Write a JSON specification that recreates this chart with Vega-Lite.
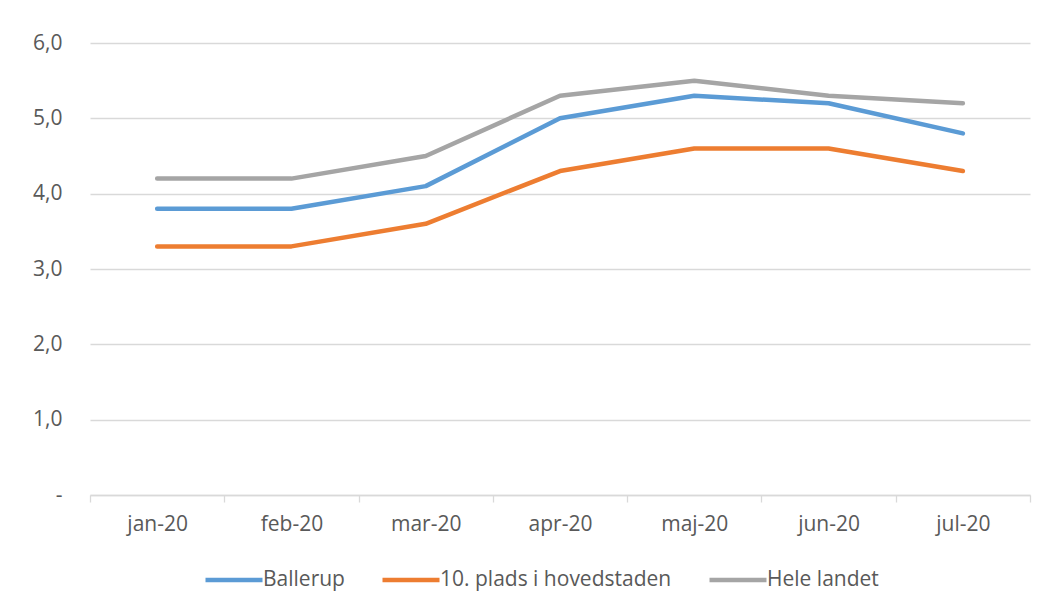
{
  "$schema": "https://vega.github.io/schema/vega-lite/v6.json",
  "autosize": {"type": "none"},
  "width": 940,
  "height": 452,
  "padding": {"left": 90, "top": 43, "right": 25, "bottom": 116},
  "background": "white",
  "config": {
    "view": {"stroke": null},
    "font": "Open Sans"
  },
  "data": {
    "values": [
      {"month": "jan-20", "serie": "Ballerup", "value": 3.8},
      {"month": "feb-20", "serie": "Ballerup", "value": 3.8},
      {"month": "mar-20", "serie": "Ballerup", "value": 4.1},
      {"month": "apr-20", "serie": "Ballerup", "value": 5.0},
      {"month": "maj-20", "serie": "Ballerup", "value": 5.3},
      {"month": "jun-20", "serie": "Ballerup", "value": 5.2},
      {"month": "jul-20", "serie": "Ballerup", "value": 4.8},
      {"month": "jan-20", "serie": "10. plads i hovedstaden", "value": 3.3},
      {"month": "feb-20", "serie": "10. plads i hovedstaden", "value": 3.3},
      {"month": "mar-20", "serie": "10. plads i hovedstaden", "value": 3.6},
      {"month": "apr-20", "serie": "10. plads i hovedstaden", "value": 4.3},
      {"month": "maj-20", "serie": "10. plads i hovedstaden", "value": 4.6},
      {"month": "jun-20", "serie": "10. plads i hovedstaden", "value": 4.6},
      {"month": "jul-20", "serie": "10. plads i hovedstaden", "value": 4.3},
      {"month": "jan-20", "serie": "Hele landet", "value": 4.2},
      {"month": "feb-20", "serie": "Hele landet", "value": 4.2},
      {"month": "mar-20", "serie": "Hele landet", "value": 4.5},
      {"month": "apr-20", "serie": "Hele landet", "value": 5.3},
      {"month": "maj-20", "serie": "Hele landet", "value": 5.5},
      {"month": "jun-20", "serie": "Hele landet", "value": 5.3},
      {"month": "jul-20", "serie": "Hele landet", "value": 5.2}
    ]
  },
  "mark": {"type": "line", "strokeWidth": 4.5, "strokeCap": "round", "strokeJoin": "round"},
  "encoding": {
    "x": {
      "field": "month",
      "type": "ordinal",
      "sort": ["jan-20", "feb-20", "mar-20", "apr-20", "maj-20", "jun-20", "jul-20"],
      "bandPosition": 0.5,
      "scale": {"type": "band", "paddingInner": 0, "paddingOuter": 0},
      "axis": {
        "title": null,
        "labelAngle": 0,
        "labelFontSize": 21,
        "labelColor": "#595959",
        "labelPadding": 11,
        "tickBand": "extent",
        "ticks": true,
        "tickSize": 7,
        "tickColor": "#d9d9d9",
        "tickWidth": 1.3,
        "domainColor": "#d9d9d9",
        "domainWidth": 1.3,
        "grid": false
      }
    },
    "y": {
      "field": "value",
      "type": "quantitative",
      "scale": {"domain": [0, 6], "nice": false},
      "axis": {
        "title": null,
        "values": [0, 1, 2, 3, 4, 5, 6],
        "labelExpr": "datum.value == 0 ? '-' : replace(format(datum.value, '.1f'), '.', ',')",
        "labelFontSize": 21,
        "labelColor": "#595959",
        "labelPadding": 28,
        "ticks": false,
        "domain": false,
        "grid": true,
        "gridColor": "#d9d9d9",
        "gridWidth": 1.3
      }
    },
    "color": {
      "field": "serie",
      "type": "nominal",
      "sort": ["Ballerup", "10. plads i hovedstaden", "Hele landet"],
      "scale": {
        "domain": ["Ballerup", "10. plads i hovedstaden", "Hele landet"],
        "range": ["#5B9BD5", "#ED7D31", "#A5A5A5"]
      },
      "legend": {
        "title": null,
        "orient": "none",
        "direction": "horizontal",
        "legendX": 113,
        "legendY": 506,
        "symbolType": "stroke",
        "symbolSize": 3249,
        "symbolStrokeWidth": 4.5,
        "labelFontSize": 21,
        "labelColor": "#595959",
        "labelOffset": -2,
        "labelLimit": 400,
        "columnPadding": 28
      }
    }
  }
}
